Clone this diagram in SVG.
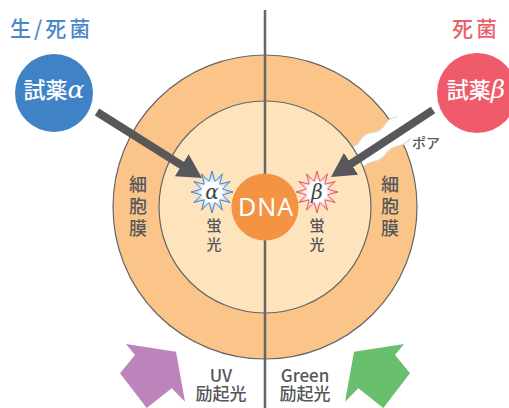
<svg xmlns="http://www.w3.org/2000/svg" width="509" height="408" viewBox="0 0 509 408">
  <style>
    .lbl { font-family: "Noto Sans CJK JP", "Noto Sans", sans-serif; fill: #555759; font-weight: 500; }
    .title { font-family: "Noto Sans CJK JP", "Noto Sans", sans-serif; font-size: 21px; letter-spacing: 3px; font-weight: 500; }
    .reagent { font-family: "Noto Sans CJK JP", "Noto Sans", sans-serif; font-size: 22px; fill: #ffffff; text-anchor: middle; font-weight: 500; }
    .greek { font-family: "DejaVu Serif", "Liberation Serif", serif; font-style: italic; font-weight: normal; }
    .mem { font-size: 18px; text-anchor: middle; }
    .fluo { font-size: 15px; text-anchor: middle; }
    .exc { font-size: 17px; text-anchor: middle; }
    .ptr { stroke: #58585a; stroke-width: 8; fill: none; }
    .rim { stroke: #666666; stroke-width: 1.2; }
  </style>
  <defs>
    <marker id="head" viewBox="0 0 24 26" markerUnits="userSpaceOnUse" markerWidth="24" markerHeight="26" refX="2" refY="13" orient="auto">
      <path d="M0,0 L24,13 L0,26 Z" fill="#58585a"/>
    </marker>
    <polygon id="star" points="0,-21 2.9,-10.6 10.5,-18.2 7.8,-7.8 18.2,-10.5 10.6,-2.9 21,0 10.6,2.9 18.2,10.5 7.8,7.8 10.5,18.2 2.9,10.6 0,21 -2.9,10.6 -10.5,18.2 -7.8,7.8 -18.2,10.5 -10.6,2.9 -21,0 -10.6,-2.9 -18.2,-10.5 -7.8,-7.8 -10.5,-18.2 -2.9,-10.6"/>
    <radialGradient id="glowBlue" cx="0.5" cy="0.5" r="0.5">
      <stop offset="0" stop-color="#ffffff"/>
      <stop offset="0.45" stop-color="#ffffff"/>
      <stop offset="1" stop-color="#80b2ea"/>
    </radialGradient>
    <radialGradient id="glowRed" cx="0.5" cy="0.5" r="0.5">
      <stop offset="0" stop-color="#ffffff"/>
      <stop offset="0.45" stop-color="#ffffff"/>
      <stop offset="1" stop-color="#f0909a"/>
    </radialGradient>
  </defs>

  <!-- cell: membrane ring and cytoplasm -->
  <g id="cell">
    <circle id="membrane" cx="265" cy="207" r="152" fill="#fbc58a" class="rim"/>
    <g id="pore">
      <path d="M347.9,148.1 Q356.1,147.6 360.2,140.3 Q364.2,133 372.5,132.6 Q380.7,132.1 384.7,124.8 Q388.8,117.5 397,117 L412,114 L418,136 L410.4,138.2 Q405.9,144.6 398.1,146 Q390.4,147.4 385.9,153.8 Q381.3,160.2 373.6,161.5 Q365.8,162.9 361.3,169.3 Z" fill="#ffffff"/>
      <path d="M347.9,148.1 Q356.1,147.6 360.2,140.3 Q364.2,133 372.5,132.6 Q380.7,132.1 384.7,124.8 Q388.8,117.5 397,117" fill="none" stroke="#e2d8cc" stroke-width="1.2"/>
      <path d="M410.4,138.2 Q405.9,144.6 398.1,146 Q390.4,147.4 385.9,153.8 Q381.3,160.2 373.6,161.5 Q365.8,162.9 361.3,169.3" fill="none" stroke="#e2d8cc" stroke-width="1.2"/>
    </g>
    <circle id="cytoplasm" cx="265" cy="207" r="106" fill="#fde4bc" class="rim"/>
  </g>

  <!-- divider between the two halves -->
  <line x1="265" y1="10" x2="265" y2="408" stroke="#666666" stroke-width="2.5"/>

  <g id="dna">
    <circle cx="265" cy="207" r="33.5" fill="#f39343"/>
    <text x="266" y="216" font-family="Noto Sans, sans-serif" font-size="25" fill="#ffffff" text-anchor="middle" letter-spacing="1">DNA</text>
  </g>

  <!-- reagent paths into the cell -->
  <g id="connectors">
    <line class="ptr" x1="97" y1="112" x2="183.4" y2="166.3" marker-end="url(#head)"/>
    <line class="ptr" x1="433" y1="110" x2="349.4" y2="164.9" marker-end="url(#head)"/>
  </g>

  <g id="fluor-alpha">
    <use href="#star" x="212" y="192" fill="url(#glowBlue)" stroke="#4a86cc" stroke-width="1"/>
    <text class="greek" x="212" y="199" font-size="20" fill="#444444" text-anchor="middle">α</text>
    <text class="lbl fluo" x="214" y="231">蛍</text>
    <text class="lbl fluo" x="214" y="249.5">光</text>
  </g>

  <g id="fluor-beta">
    <use href="#star" x="317" y="192" fill="url(#glowRed)" stroke="#e0606c" stroke-width="1"/>
    <text class="greek" x="317" y="199" font-size="20" fill="#444444" text-anchor="middle">β</text>
    <text class="lbl fluo" x="317" y="231">蛍</text>
    <text class="lbl fluo" x="317" y="249.5">光</text>
  </g>

  <g id="membrane-left">
    <text class="lbl mem" x="138" y="191">細</text>
    <text class="lbl mem" x="138" y="213">胞</text>
    <text class="lbl mem" x="138" y="235">膜</text>
  </g>
  <g id="membrane-right">
    <text class="lbl mem" x="390" y="191">細</text>
    <text class="lbl mem" x="390" y="213">胞</text>
    <text class="lbl mem" x="390" y="235">膜</text>
  </g>

  <text id="pore-label" class="lbl" x="426" y="148" font-size="14" text-anchor="middle">ポア</text>

  <g id="reagent-alpha">
    <text class="title" x="10" y="35.5" fill="#4a88cb">生/死菌</text>
    <circle cx="54" cy="93" r="39" fill="#3f83c6"/>
    <text class="reagent" x="54" y="98">試薬<tspan class="greek" font-size="25">α</tspan></text>
  </g>

  <g id="reagent-beta">
    <text class="title" x="452" y="35.5" fill="#e9606d">死菌</text>
    <circle cx="477" cy="93" r="40" fill="#ef5b6a"/>
    <text class="reagent" x="476" y="98">試薬<tspan class="greek" font-size="25">β</tspan></text>
  </g>

  <g id="uv-excitation">
    <polygon points="126,344 176,351.7 185,401.7 171.7,388.3 146.7,408 120,373.3 135,355" fill="#bd84bc"/>
    <text class="lbl exc" x="221" y="382">UV</text>
    <text class="lbl exc" x="221" y="400">励起光</text>
  </g>

  <g id="green-excitation">
    <polygon points="404,344 354,351.7 345,401.7 358.3,388.3 383.3,408 410,373.3 395,355" fill="#69bf6e"/>
    <text class="lbl exc" x="305" y="382">Green</text>
    <text class="lbl exc" x="305" y="400">励起光</text>
  </g>
</svg>
